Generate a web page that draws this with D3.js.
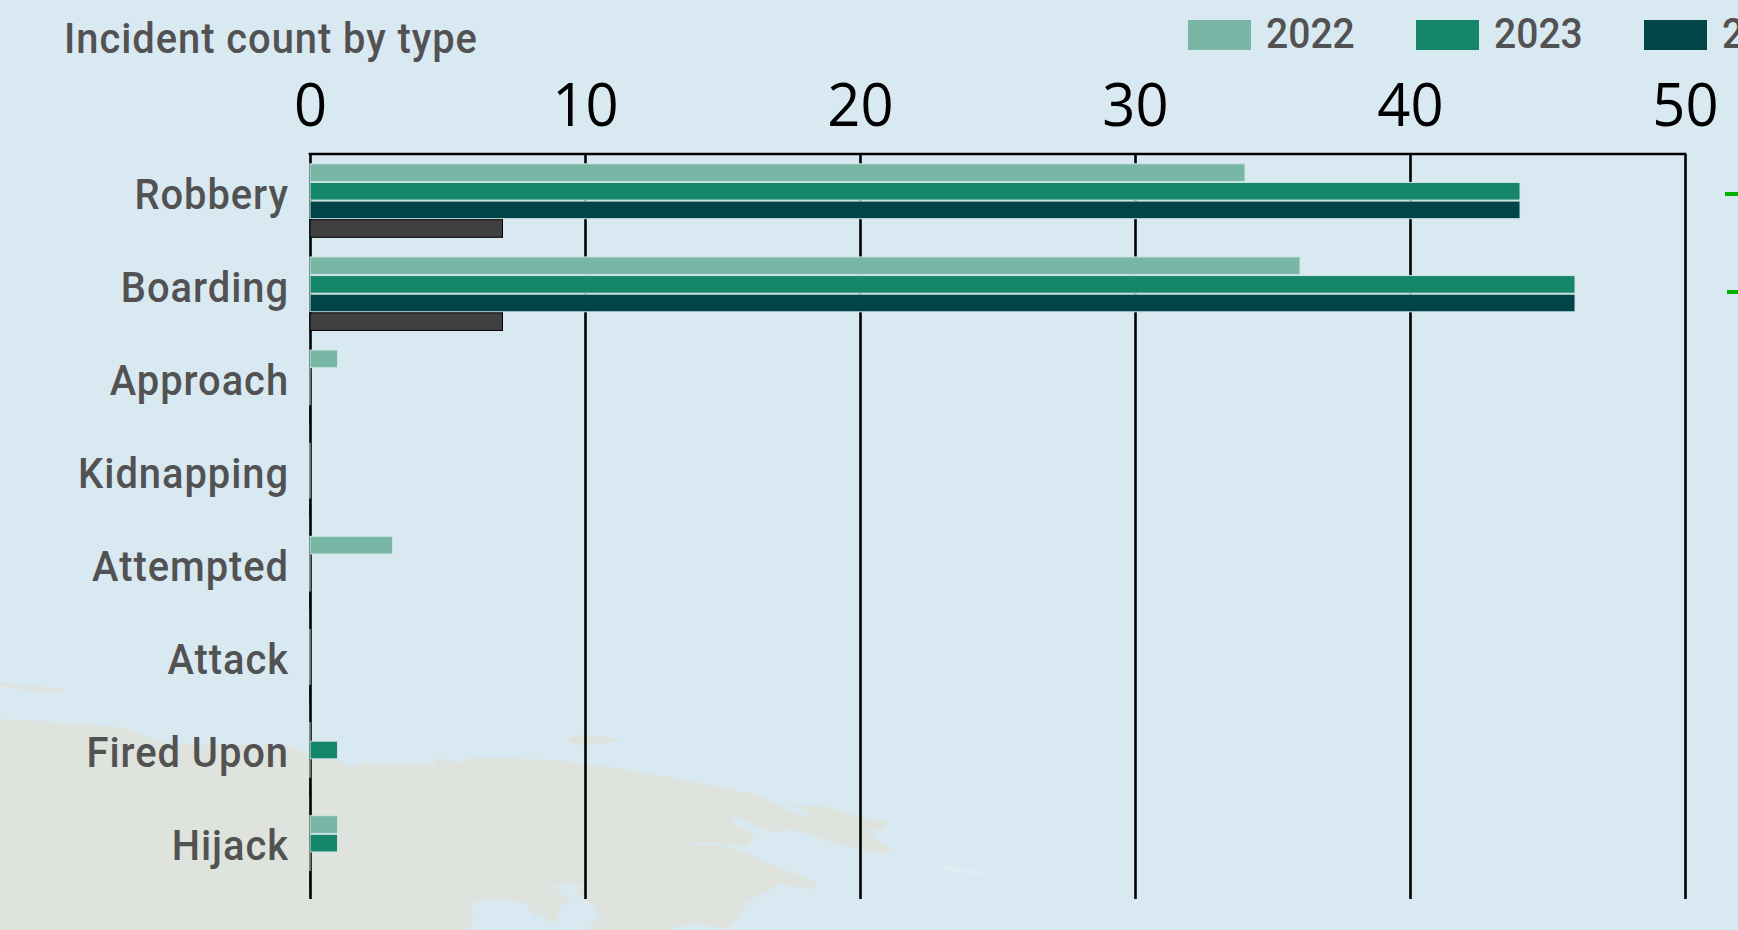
<!DOCTYPE html>
<html>
<head>
<meta charset="utf-8">
<script src="https://d3js.org/d3.v7.min.js"></script>
<style>
    html, body { margin: 0; padding: 0; background: #d9e9f2; overflow: hidden; }
    svg { display: block; }
    .label { font-family: Roboto, sans-serif; font-size: 42px; font-weight: 500; letter-spacing: 1px; fill: #525252; }
    .legend-label { font-family: Roboto, sans-serif; font-size: 42px; font-weight: 500; fill: #525252; }
    .tick-label { font-family: "Open Sans", sans-serif; font-size: 61px; fill: #000; }
</style>
</head>
<body>
<div id="chart"></div>
<script>
const categories = ["Robbery", "Boarding", "Approach", "Kidnapping", "Attempted", "Attack", "Fired Upon", "Hijack"];
const years = ["2022", "2023", "2024", "2025"];
const legendYears = ["2022", "2023", "2024"]; // the 4th key is past the right edge in the original
const values2022 = [34, 36, 1, 0, 3, 0, 0, 1];
const values2023 = [44, 46, 0, 0, 0, 0, 1, 1];
const values2024 = [44, 46, 0, 0, 0, 0, 0, 0];
const values2025 = [7, 7, 0, 0, 0, 0, 0, 0];
const seriesValues = [values2022, values2023, values2024, values2025];
const xTicks = [0, 10, 20, 30, 40, 50];

const seriesColors = ["#78b6a6", "#16866a", "#004547", "#404040"];
const seriesStrokes = ["#cfe3e3", "#cfe3e3", "#cfe3e3", "#000000"];

// background map, traced by hand
const landOutline = [
    [0, 719], [40, 721], [70, 724], [120, 727], [165, 743], [200, 745], [250, 745], [290, 746],
    [310, 755], [333, 758], [347, 765], [353, 767], [367, 763], [433, 765], [437, 758], [463, 763],
    [473, 757], [500, 758], [557, 760], [617, 768], [673, 778], [757, 795], [773, 802], [790, 812],
    [815, 818], [800, 808], [783, 804], [828, 807], [860, 817], [888, 822], [883, 830], [868, 829],
    [877, 840], [893, 851], [880, 853], [833, 843], [817, 837], [793, 830], [770, 832], [755, 825],
    [740, 817], [730, 820], [755, 837], [747, 847], [717, 843], [697, 843.5], [685, 845.5], [700, 846],
    [720, 845], [747, 853], [773, 865], [800, 875], [815, 883], [817, 890], [773, 883], [777, 887],
    [747, 902], [740, 917], [730, 927], [732, 930], [720, 928], [700, 924], [673, 927], [672, 930],
    [586, 930], [600, 917], [595, 908], [585, 900], [575, 890], [583, 886], [567, 883], [553, 887],
    [574, 903], [563, 902], [555, 922], [550, 923], [543, 915], [535, 917], [525, 902], [513, 902],
    [500, 898], [472, 903], [473, 917], [470, 930], [0, 930]
];
const islandNorth = [[566, 740], [577, 735], [600, 736], [622, 741], [600, 744], [577, 745]];
const islandWest = [[0, 683], [20, 685], [43, 687], [68, 689], [53, 692], [30, 690], [0, 686]];
const islandFaint = [[930, 866], [948, 865], [988, 873], [980, 876], [947, 870]];

const width = 1738;
const height = 930;
const margin = { top: 154, right: 53, bottom: 31, left: 310 };
const textSqueeze = 0.95;
const legendSqueeze = 0.93;
const tickSqueeze = 0.95;

const svg = d3.select("#chart")
    .append("svg")
    .attr("width", width)
    .attr("height", height);

svg.append("rect")
    .attr("width", width)
    .attr("height", height)
    .attr("fill", "#d9e9f2");

const landPath = d3.line();
svg.append("path").attr("d", landPath(landOutline) + "Z").attr("fill", "#dee3dd");
svg.append("path").attr("d", landPath(islandNorth) + "Z").attr("fill", "#dee3dd");
svg.append("path").attr("d", landPath(islandWest) + "Z").attr("fill", "#dee3dd");
svg.append("path").attr("d", landPath(islandFaint) + "Z").attr("fill", "#deecf3");

const xScale = d3.scaleLinear()
    .domain([0, 50])
    .range([margin.left, width - margin.right]);

const yScale = d3.scaleBand()
    .domain(categories)
    .range([margin.top, height - margin.bottom])
    .paddingInner(0.2)
    .paddingOuter(0.1);

const seriesScale = d3.scaleBand()
    .domain(years)
    .range([0, yScale.bandwidth()]);

// top axis, with the ticks running down as gridlines
const xAxis = d3.axisTop(xScale)
    .tickValues(xTicks)
    .tickSize(0)
    .tickPadding(28);

const xAxisGroup = svg.append("g")
    .attr("transform", "translate(0," + margin.top + ")")
    .call(xAxis);

xAxisGroup.select(".domain").remove();
xAxisGroup.selectAll(".tick text")
    .attr("class", "tick-label")
    .attr("font-family", null)
    .attr("font-size", null)
    .attr("dy", 0)
    .attr("transform", "scale(" + tickSqueeze + ",1)");

xAxisGroup.selectAll(".tick line")
    .attr("y2", height - margin.bottom - margin.top)
    .attr("stroke", "#000")
    .attr("stroke-width", 2.6);

svg.append("line")
    .attr("x1", xScale(0) - 1.3)
    .attr("x2", xScale(50) + 1.3)
    .attr("y1", margin.top)
    .attr("y2", margin.top)
    .attr("stroke", "#000")
    .attr("stroke-width", 2.6);

// y labels
svg.append("g")
    .selectAll("text")
    .data(categories)
    .enter().append("text")
    .attr("class", "label")
    .attr("text-anchor", "end")
    .attr("transform", d => "translate(289," + (yScale(d) + yScale.bandwidth() / 2 + 8) + ") scale(" + textSqueeze + ",1)")
    .text(d => d);

// bars
years.forEach(function(year, i) {
    svg.append("g")
        .selectAll("rect")
        .data(seriesValues[i])
        .enter().append("rect")
        .attr("x", xScale(0))
        .attr("y", (d, j) => yScale(categories[j]) + seriesScale(year) + 0.5)
        .attr("width", d => Math.max(xScale(d) - xScale(0), 0.01))
        .attr("height", seriesScale.bandwidth() - 1)
        .attr("fill", seriesColors[i])
        .attr("stroke", seriesStrokes[i])
        .attr("stroke-width", 1);
});

// title
svg.append("text")
    .attr("class", "label")
    .attr("transform", "translate(64,53) scale(" + textSqueeze + ",1)")
    .text("Incident count by type");

// legend, the last item runs off the right edge like the original
const legendScale = d3.scalePoint()
    .domain(legendYears)
    .range([1188, 1188 + 228 * 2]);

const legend = svg.append("g")
    .selectAll("g")
    .data(legendYears)
    .enter().append("g")
    .attr("transform", d => "translate(" + legendScale(d) + ",20)");

legend.append("rect")
    .attr("width", 63)
    .attr("height", 30)
    .attr("fill", (d, i) => seriesColors[i]);

legend.append("text")
    .attr("class", "legend-label")
    .attr("transform", "translate(78,28) scale(" + legendSqueeze + ",1)")
    .text(d => d);

// green marks cut off by the right edge
svg.append("rect").attr("x", 1725).attr("y", 192).attr("width", 13).attr("height", 4).attr("fill", "#00b000");
svg.append("rect").attr("x", 1727).attr("y", 290).attr("width", 11).attr("height", 4).attr("fill", "#00b000");
</script>
</body>
</html>
